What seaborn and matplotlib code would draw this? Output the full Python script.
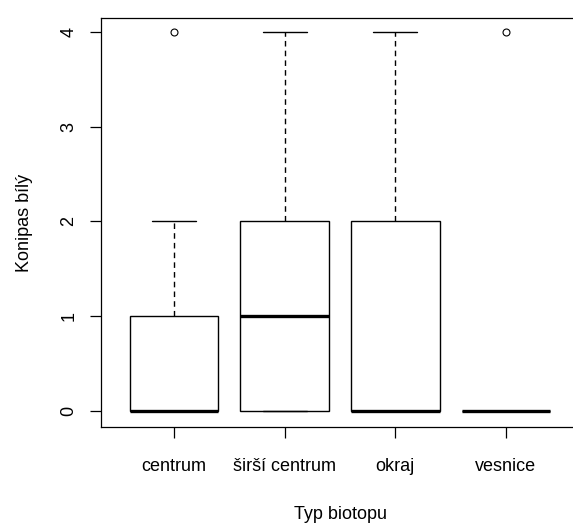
import numpy as np
import pandas as pd
import matplotlib
matplotlib.use("Agg")
import matplotlib.pyplot as plt
import seaborn as sns

# Counts of Konipas bílý per site, grouped by habitat type
categories = ["centrum", "širší centrum", "okraj", "vesnice"]
centrum = [0, 0, 0, 0, 0, 0, 1, 1, 1, 2, 4]
sirsi_centrum = [0, 0, 0, 0, 1, 1, 2, 2, 3, 4]
okraj = [0, 0, 0, 0, 0, 0, 1, 2, 2, 3, 4]
vesnice = [0, 0, 0, 0, 0, 0, 0, 0, 0, 4]
y_ticks = [0, 1, 2, 3, 4]

groups = [centrum, sirsi_centrum, okraj, vesnice]
df = pd.DataFrame({
    "Typ biotopu": np.repeat(categories, [len(g) for g in groups]),
    "Konipas bílý": np.concatenate(groups),
})
df["Typ biotopu"] = pd.Categorical(df["Typ biotopu"], categories=categories, ordered=True)

sns.set_style("white")
plt.rcParams["font.family"] = ["Liberation Sans", "DejaVu Sans"]

fig = plt.figure(figsize=(5.73, 5.23), dpi=100)
ax = fig.add_axes([101 / 573, 96 / 523, 478 / 573, 409 / 523])

sns.boxplot(
    data=df, x="Typ biotopu", y="Konipas bílý", order=categories,
    color="white", linecolor="black", width=0.8, whis=1.5, ax=ax,
    boxprops=dict(facecolor="white", edgecolor="black", linewidth=1.0),
    medianprops=dict(color="black", linewidth=2.4, solid_capstyle="butt"),
    whiskerprops=dict(color="black", linewidth=1.0, linestyle=(0, (4, 3))),
    capprops=dict(color="black", linewidth=1.0),
    flierprops=dict(marker="o", markersize=5, markerfacecolor="none",
                    markeredgecolor="black", markeredgewidth=0.8),
)

ax.set_xlim(-0.66, 3.66)
ax.set_ylim(-0.172, 4.148)
ax.set_yticks(y_ticks)
ax.set_yticklabels([str(t) for t in y_ticks], rotation=90, va="center")

for side in ["left", "right", "top", "bottom"]:
    ax.spines[side].set_visible(True)
    ax.spines[side].set_color("black")
    ax.spines[side].set_linewidth(0.9)

ax.tick_params(axis="both", which="both", direction="out", length=8, width=0.9,
               color="black", labelsize=13, labelcolor="black",
               left=True, bottom=True, right=False, top=False)
ax.tick_params(axis="x", pad=14.5)
ax.tick_params(axis="y", pad=9)

ax.set_xlabel("Typ biotopu", fontsize=13, color="black", labelpad=22)
ax.set_ylabel("Konipas bílý", fontsize=13, color="black", labelpad=20)

fig.savefig("out.png", dpi=100)
